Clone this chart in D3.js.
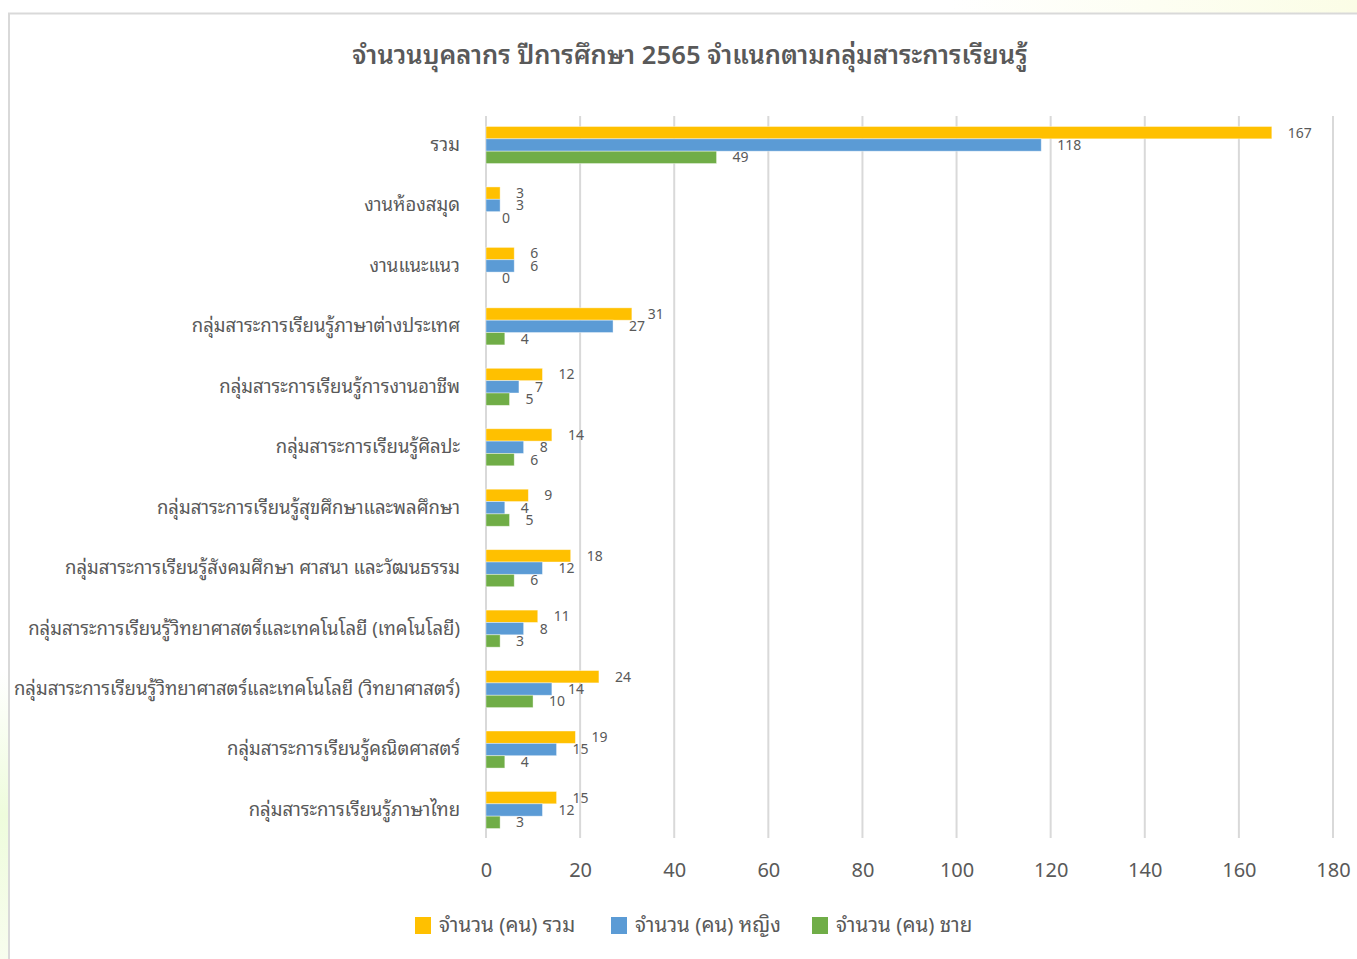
<!DOCTYPE html>
<meta charset="utf-8">
<script src="https://d3js.org/d3.v7.min.js"></script>
<style>
  body { margin: 0; background: #fff; }
  text { font-family: "Noto Sans Thai Looped", "Noto Sans Thai UI", "Noto Sans Thai", "Noto Sans", Tahoma, sans-serif; fill: #595959; }
</style>
<div id="chart"></div>
<script>

// categories, top to bottom
var categories = [
  "รวม",
  "งานห้องสมุด",
  "งานแนะแนว",
  "กลุ่มสาระการเรียนรู้ภาษาต่างประเทศ",
  "กลุ่มสาระการเรียนรู้การงานอาชีพ",
  "กลุ่มสาระการเรียนรู้ศิลปะ",
  "กลุ่มสาระการเรียนรู้สุขศึกษาและพลศึกษา",
  "กลุ่มสาระการเรียนรู้สังคมศึกษา ศาสนา และวัฒนธรรม",
  "กลุ่มสาระการเรียนรู้วิทยาศาสตร์และเทคโนโลยี (เทคโนโลยี)",
  "กลุ่มสาระการเรียนรู้วิทยาศาสตร์และเทคโนโลยี (วิทยาศาสตร์)",
  "กลุ่มสาระการเรียนรู้คณิตศาสตร์",
  "กลุ่มสาระการเรียนรู้ภาษาไทย"
]
var total  = [167, 3, 6, 31, 12, 14, 9, 18, 11, 24, 19, 15]
var female = [118, 3, 6, 27, 7, 8, 4, 12, 8, 14, 15, 12]
var male   = [49, 0, 0, 4, 5, 6, 5, 6, 3, 10, 4, 3]
var seriesNames = ["จำนวน (คน) รวม", "จำนวน (คน) หญิง", "จำนวน (คน) ชาย"]
var xTicks = [0, 20, 40, 60, 80, 100, 120, 140, 160, 180]

var W = 1357, H = 959
var colors = ["#FFC000", "#5B9BD5", "#70AD47"]
var series = [total, female, male]

var svg = d3.select("#chart").append("svg")
  .attr("width", W).attr("height", H)

// faint page background outside the chart frame
var defs = svg.append("defs")
var g1 = defs.append("linearGradient").attr("id", "bgTop").attr("x1", 0).attr("x2", 1)
g1.append("stop").attr("offset", "0.7").attr("stop-color", "#ffffff")
g1.append("stop").attr("offset", "1").attr("stop-color", "#fbfde6")
var g2 = defs.append("linearGradient").attr("id", "bgLeft").attr("x1", 0).attr("x2", 0).attr("y1", 0).attr("y2", 1)
g2.append("stop").attr("offset", "0.7").attr("stop-color", "#ffffff")
g2.append("stop").attr("offset", "0.85").attr("stop-color", "#eefcdc")
g2.append("stop").attr("offset", "1").attr("stop-color", "#f8fdee")
svg.append("rect").attr("x", 0).attr("y", 0).attr("width", W).attr("height", 13).attr("fill", "url(#bgTop)")
svg.append("rect").attr("x", 0).attr("y", 0).attr("width", 9).attr("height", H).attr("fill", "url(#bgLeft)")

// chart frame
svg.append("path")
  .attr("d", "M9," + H + "V13.5H" + W)
  .attr("fill", "none").attr("stroke", "#d9d9d9").attr("stroke-width", 2)

// title
svg.append("text")
  .attr("x", 690).attr("y", 64)
  .attr("text-anchor", "middle")
  .style("font-size", "25.5px")
  .style("font-weight", 600)
  .text("จำนวนบุคลากร ปีการศึกษา 2565 จำแนกตามกลุ่มสาระการเรียนรู้")

// scales
var x = d3.scaleLinear().domain([0, 180]).range([486, 1333])
var y = d3.scaleBand().domain(d3.range(categories.length))
  .range([115, 840]).paddingInner(0.387).paddingOuter(0.19)
var ys = d3.scaleBand().domain(d3.range(3)).range([0, y.bandwidth()])

// gridlines
svg.append("g").selectAll("line")
  .data(xTicks).enter().append("line")
  .attr("x1", function(d){ return x(d) }).attr("x2", function(d){ return x(d) })
  .attr("y1", 116).attr("y2", 838)
  .attr("stroke", "#d9d9d9").attr("stroke-width", 2)

// x tick labels
var xAxis = svg.append("g")
  .attr("transform", "translate(0,838)")
  .call(d3.axisBottom(x).tickValues(xTicks).tickSize(0).tickPadding(25))
xAxis.select(".domain").remove()
xAxis.selectAll("text").style("font-size", "20px").attr("fill", "#595959")

// category labels
var yAxis = svg.append("g")
  .attr("transform", "translate(486,0)")
  .call(d3.axisLeft(y).tickFormat(function(i){ return categories[i] }).tickSize(0).tickPadding(26))
yAxis.select(".domain").remove()
yAxis.selectAll("text").style("font-size", "18.5px").attr("fill", "#595959")

// bars + labels
series.forEach(function(vals, s) {
  var grp = svg.append("g")
  grp.selectAll("rect")
    .data(vals).enter().append("rect")
    .attr("x", x(0))
    .attr("y", function(d, i){ return y(i) + ys(s) })
    .attr("width", function(d){ return x(d) - x(0) })
    .attr("height", ys.bandwidth())
    .attr("fill", colors[s])
    .attr("stroke", "#ffffff").attr("stroke-opacity", 0.5).attr("stroke-width", 0.8)
  grp.selectAll("text")
    .data(vals).enter().append("text")
    .attr("x", function(d){ return x(d) + 16 })
    .attr("y", function(d, i){ return y(i) + ys(s) + ys.bandwidth() / 2 })
    .attr("dy", "0.35em")
    .style("font-size", "14px")
    .text(function(d){ return d })
})

// legend
var legend = svg.append("g").selectAll("g")
  .data(seriesNames).enter().append("g")
  .attr("transform", function(d, i){ return "translate(" + [415, 611, 812][i] + ",917)" })
legend.append("rect").attr("width", 16).attr("height", 17)
  .attr("fill", function(d, i){ return colors[i] })
legend.append("text").attr("x", 24).attr("y", 8).attr("dy", "0.35em")
  .style("font-size", "20.5px")
  .text(function(d){ return d })

</script>
